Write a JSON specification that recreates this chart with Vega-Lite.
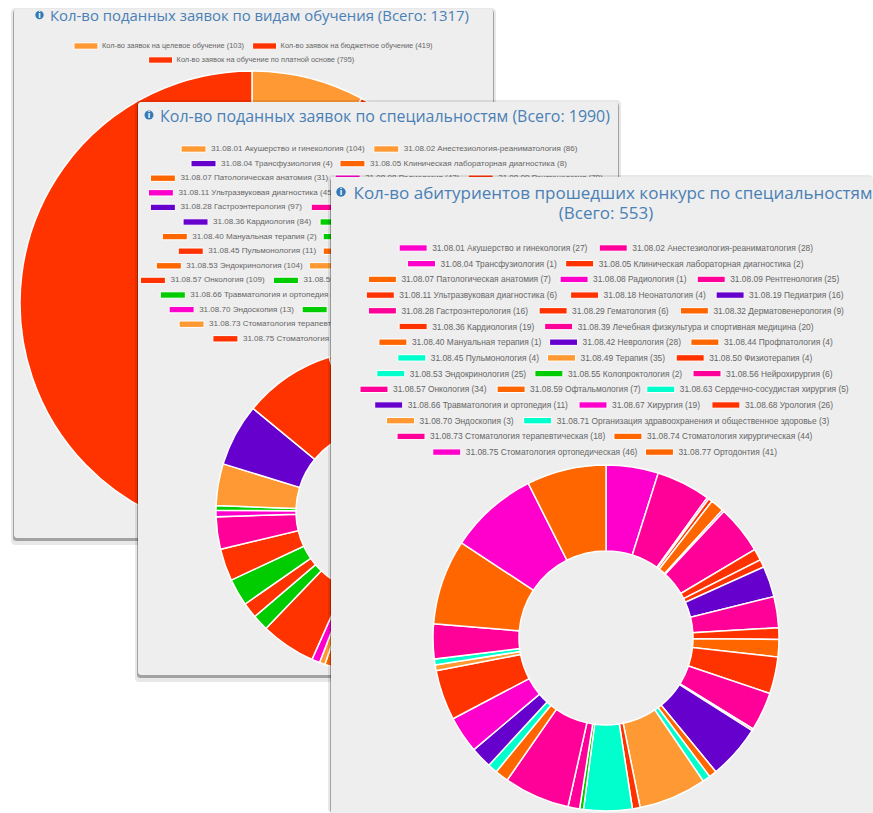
{"$schema":"https://vega.github.io/schema/vega-lite/v6.json","width":873,"height":813,"autosize":{"type":"none"},"padding":0,"background":"#ffffff","config":{"view":{"stroke":null},"axis":{"domain":false,"grid":false,"ticks":false,"labels":false,"title":null}},
"datasets":{"panels":[{"panel":"A","title":"Кол-во поданных заявок по видам обучения (Всего: 1317)"},{"panel":"B","title":"Кол-во поданных заявок по специальностям (Всего: 1990)"},{"panel":"C","title":"Кол-во абитуриентов прошедших конкурс по специальностям","sub":"(Всего: 553)"}],
"rows":[
{"panel":"A","seq":1,"name":"Кол-во заявок на целевое обучение","n":103,"line":0},
{"panel":"A","seq":2,"name":"Кол-во заявок на бюджетное обучение","n":419,"line":0},
{"panel":"A","seq":3,"name":"Кол-во заявок на обучение по платной основе","n":795,"line":1},
{"panel":"B","seq":1,"code":"31.08.01","name":"Акушерство и гинекология","n":104,"line":0},
{"panel":"B","seq":2,"code":"31.08.02","name":"Анестезиология-реаниматология","n":86,"line":0},
{"panel":"B","seq":3,"code":"31.08.04","name":"Трансфузиология","n":4,"line":1},
{"panel":"B","seq":4,"code":"31.08.05","name":"Клиническая лабораторная диагностика","n":8,"line":1},
{"panel":"B","seq":5,"code":"31.08.07","name":"Патологическая анатомия","n":31,"line":2},
{"panel":"B","seq":6,"code":"31.08.08","name":"Радиология","n":42,"line":2},
{"panel":"B","seq":7,"code":"31.08.09","name":"Рентгенология","n":79,"line":2},
{"panel":"B","seq":8,"code":"31.08.11","name":"Ультразвуковая диагностика","n":45,"line":3},
{"panel":"B","seq":9,"code":"31.08.18","name":"Неонатология","n":12,"line":3},
{"panel":"B","seq":10,"code":"31.08.19","name":"Педиатрия","n":70,"line":3},
{"panel":"B","seq":11,"code":"31.08.28","name":"Гастроэнтерология","n":97,"line":4},
{"panel":"B","seq":12,"code":"31.08.29","name":"Гематология","n":20,"line":4},
{"panel":"B","seq":13,"code":"31.08.32","name":"Дерматовенерология","n":28,"line":4},
{"panel":"B","seq":14,"code":"31.08.36","name":"Кардиология","n":84,"line":5},
{"panel":"B","seq":15,"code":"31.08.39","name":"Лечебная физкультура и спортивная медицина","n":52,"line":5},
{"panel":"B","seq":16,"code":"31.08.40","name":"Мануальная терапия","n":2,"line":6},
{"panel":"B","seq":17,"code":"31.08.42","name":"Неврология","n":80,"line":6},
{"panel":"B","seq":18,"code":"31.08.44","name":"Профпатология","n":12,"line":6},
{"panel":"B","seq":19,"code":"31.08.45","name":"Пульмонология","n":11,"line":7},
{"panel":"B","seq":20,"code":"31.08.49","name":"Терапия","n":122,"line":7},
{"panel":"B","seq":21,"code":"31.08.50","name":"Физиотерапия","n":8,"line":7},
{"panel":"B","seq":22,"code":"31.08.53","name":"Эндокринология","n":104,"line":8},
{"panel":"B","seq":23,"code":"31.08.55","name":"Колопроктология","n":11,"line":8},
{"panel":"B","seq":24,"code":"31.08.56","name":"Нейрохирургия","n":16,"line":8},
{"panel":"B","seq":25,"code":"31.08.57","name":"Онкология","n":109,"line":9},
{"panel":"B","seq":26,"code":"31.08.59","name":"Офтальмология","n":32,"line":9},
{"panel":"B","seq":27,"code":"31.08.63","name":"Сердечно-сосудистая хирургия","n":31,"line":9},
{"panel":"B","seq":28,"code":"31.08.66","name":"Травматология и ортопедия","n":54,"line":10},
{"panel":"B","seq":29,"code":"31.08.67","name":"Хирургия","n":64,"line":10},
{"panel":"B","seq":30,"code":"31.08.68","name":"Урология","n":64,"line":10},
{"panel":"B","seq":31,"code":"31.08.70","name":"Эндоскопия","n":13,"line":11},
{"panel":"B","seq":32,"code":"31.08.71","name":"Организация здравоохранения и общественное здоровье","n":9,"line":11},
{"panel":"B","seq":33,"code":"31.08.73","name":"Стоматология терапевтическая","n":83,"line":12},
{"panel":"B","seq":34,"code":"31.08.74","name":"Стоматология хирургическая","n":124,"line":12},
{"panel":"B","seq":35,"code":"31.08.75","name":"Стоматология ортопедическая","n":182,"line":13},
{"panel":"B","seq":36,"code":"31.08.77","name":"Ортодонтия","n":97,"line":13},
{"panel":"C","seq":1,"code":"31.08.01","name":"Акушерство и гинекология","n":27,"line":0},
{"panel":"C","seq":2,"code":"31.08.02","name":"Анестезиология-реаниматология","n":28,"line":0},
{"panel":"C","seq":3,"code":"31.08.04","name":"Трансфузиология","n":1,"line":1},
{"panel":"C","seq":4,"code":"31.08.05","name":"Клиническая лабораторная диагностика","n":2,"line":1},
{"panel":"C","seq":5,"code":"31.08.07","name":"Патологическая анатомия","n":7,"line":2},
{"panel":"C","seq":6,"code":"31.08.08","name":"Радиология","n":1,"line":2},
{"panel":"C","seq":7,"code":"31.08.09","name":"Рентгенология","n":25,"line":2},
{"panel":"C","seq":8,"code":"31.08.11","name":"Ультразвуковая диагностика","n":6,"line":3},
{"panel":"C","seq":9,"code":"31.08.18","name":"Неонатология","n":4,"line":3},
{"panel":"C","seq":10,"code":"31.08.19","name":"Педиатрия","n":16,"line":3},
{"panel":"C","seq":11,"code":"31.08.28","name":"Гастроэнтерология","n":16,"line":4},
{"panel":"C","seq":12,"code":"31.08.29","name":"Гематология","n":6,"line":4},
{"panel":"C","seq":13,"code":"31.08.32","name":"Дерматовенерология","n":9,"line":4},
{"panel":"C","seq":14,"code":"31.08.36","name":"Кардиология","n":19,"line":5},
{"panel":"C","seq":15,"code":"31.08.39","name":"Лечебная физкультура и спортивная медицина","n":20,"line":5},
{"panel":"C","seq":16,"code":"31.08.40","name":"Мануальная терапия","n":1,"line":6},
{"panel":"C","seq":17,"code":"31.08.42","name":"Неврология","n":28,"line":6},
{"panel":"C","seq":18,"code":"31.08.44","name":"Профпатология","n":4,"line":6},
{"panel":"C","seq":19,"code":"31.08.45","name":"Пульмонология","n":4,"line":7},
{"panel":"C","seq":20,"code":"31.08.49","name":"Терапия","n":35,"line":7},
{"panel":"C","seq":21,"code":"31.08.50","name":"Физиотерапия","n":4,"line":7},
{"panel":"C","seq":22,"code":"31.08.53","name":"Эндокринология","n":25,"line":8},
{"panel":"C","seq":23,"code":"31.08.55","name":"Колопроктология","n":2,"line":8},
{"panel":"C","seq":24,"code":"31.08.56","name":"Нейрохирургия","n":6,"line":8},
{"panel":"C","seq":25,"code":"31.08.57","name":"Онкология","n":34,"line":9},
{"panel":"C","seq":26,"code":"31.08.59","name":"Офтальмология","n":7,"line":9},
{"panel":"C","seq":27,"code":"31.08.63","name":"Сердечно-сосудистая хирургия","n":5,"line":9},
{"panel":"C","seq":28,"code":"31.08.66","name":"Травматология и ортопедия","n":11,"line":10},
{"panel":"C","seq":29,"code":"31.08.67","name":"Хирургия","n":19,"line":10},
{"panel":"C","seq":30,"code":"31.08.68","name":"Урология","n":26,"line":10},
{"panel":"C","seq":31,"code":"31.08.70","name":"Эндоскопия","n":3,"line":11},
{"panel":"C","seq":32,"code":"31.08.71","name":"Организация здравоохранения и общественное здоровье","n":3,"line":11},
{"panel":"C","seq":33,"code":"31.08.73","name":"Стоматология терапевтическая","n":18,"line":12},
{"panel":"C","seq":34,"code":"31.08.74","name":"Стоматология хирургическая","n":44,"line":12},
{"panel":"C","seq":35,"code":"31.08.75","name":"Стоматология ортопедическая","n":46,"line":13},
{"panel":"C","seq":36,"code":"31.08.77","name":"Ортодонтия","n":41,"line":13}
]},
"data":{"name":"rows"},
"transform":[
{"calculate":"(datum.code ? datum.code + ' ' : '') + datum.name + ' (' + datum.n + ')'","as":"label"},
{"calculate":"datum.panel + ' ' + datum.seq","as":"key"},
{"calculate":"datum.panel==='A' ? 24 : datum.panel==='B' ? 25 : 28","as":"sw"},
{"calculate":"datum.panel==='A' ? 28 : datum.panel==='B' ? 30 : 33","as":"tx"},
{"calculate":"datum.panel==='A' ? 252.5 : datum.panel==='B' ? 378 : 606","as":"mid"},
{"calculate":"datum.tx + 7.5 + length(datum.label) * (datum.panel==='A' ? 3.67 : datum.panel==='B' ? 3.98 : 4.2)","as":"w"},
{"joinaggregate":[{"op":"sum","field":"w","as":"total"}],"groupby":["panel","line"]},
{"window":[{"op":"sum","field":"w","as":"cum"}],"sort":[{"field":"seq","order":"ascending"}],"groupby":["panel","line"]},
{"calculate":"datum.mid - (datum.total - 7.5) / 2 + datum.cum - datum.w","as":"sx"},
{"calculate":"datum.sx + datum.sw","as":"sx2"},
{"calculate":"datum.sx + datum.tx","as":"lx"},
{"calculate":"(datum.panel==='A' ? 46 : datum.panel==='B' ? 149 : 248) + datum.line * (datum.panel==='A' ? 14 : datum.panel==='B' ? 14.6 : 15.7)","as":"ly"},
{"calculate":"datum.ly - 3.2","as":"ly1"},
{"calculate":"datum.ly + 3.2","as":"ly2"}
],
"layer":[
{"data":{"name":"panels"},"transform":[{"filter":"datum.panel==='A'"}],"mark":{"type":"rect","fill":"#000000","opacity":0.09,"cornerRadius":4},"encoding":{"x":{"datum":11,"type":"quantitative","scale":{"domain":[0,873],"nice":false,"zero":false},"axis":null},"x2":{"datum":496},"y":{"datum":8,"type":"quantitative","scale":{"domain":[0,813],"nice":false,"zero":false,"reverse":true},"axis":null},"y2":{"datum":545}}},
{"data":{"name":"panels"},"transform":[{"filter":"datum.panel==='A'"}],"mark":{"type":"rect","fill":"#000000","opacity":0.3,"cornerRadius":3},"encoding":{"x":{"datum":13,"type":"quantitative","axis":null},"x2":{"datum":494},"y":{"datum":10,"type":"quantitative","axis":null},"y2":{"datum":541}}},
{"data":{"name":"panels"},"transform":[{"filter":"datum.panel==='A'"}],"mark":{"type":"rect","fill":"#eeeeee","cornerRadius":3},"encoding":{"x":{"datum":14,"type":"quantitative","axis":null},"x2":{"datum":493},"y":{"datum":9,"type":"quantitative","axis":null},"y2":{"datum":538}}},
{"data":{"name":"panels"},"transform":[{"filter":"datum.panel==='A'"}],"mark":{"type":"text","font":"Open Sans","fontSize":14.9,"color":"#4a80b5","align":"center","baseline":"middle"},"encoding":{"text":{"field":"title"},"x":{"datum":259.5,"type":"quantitative","axis":null},"y":{"datum":16.5,"type":"quantitative","axis":null}}},
{"data":{"name":"panels"},"transform":[{"filter":"datum.panel==='A'"}],"mark":{"type":"point","filled":true,"shape":"circle","size":70,"color":"#337ab7","opacity":1},"encoding":{"x":{"datum":39.5,"type":"quantitative","axis":null},"y":{"datum":15,"type":"quantitative","axis":null}}},
{"data":{"name":"panels"},"transform":[{"filter":"datum.panel==='A'"},{"calculate":"'i'","as":"icon"}],"mark":{"type":"text","font":"Liberation Sans","fontSize":9,"fontWeight":"bold","color":"#ffffff","align":"center","baseline":"middle"},"encoding":{"text":{"field":"icon"},"x":{"datum":39.5,"type":"quantitative","axis":null},"y":{"datum":15,"type":"quantitative","axis":null}}},
{"transform":[{"filter":"datum.panel==='A'"}],"mark":{"type":"arc","outerRadius":232,"innerRadius":0,"stroke":"#ffffff","strokeWidth":1.5},"encoding":{"theta":{"field":"n","type":"quantitative","stack":"normalize","scale":{"domain":[0,1]}},"order":{"field":"seq","type":"quantitative"},"color":{"field":"key","type":"nominal","legend":null,"scale":{"domain":["A 1","A 2","A 3","B 1","B 2","B 3","B 4","B 5","B 6","B 7","B 8","B 9","B 10","B 11","B 12","B 13","B 14","B 15","B 16","B 17","B 18","B 19","B 20","B 21","B 22","B 23","B 24","B 25","B 26","B 27","B 28","B 29","B 30","B 31","B 32","B 33","B 34","B 35","B 36","C 1","C 2","C 3","C 4","C 5","C 6","C 7","C 8","C 9","C 10","C 11","C 12","C 13","C 14","C 15","C 16","C 17","C 18","C 19","C 20","C 21","C 22","C 23","C 24","C 25","C 26","C 27","C 28","C 29","C 30","C 31","C 32","C 33","C 34","C 35","C 36"],"range":["#FF9933","#FF3300","#FF3300",
"#FF9933","#FF9933","#6600CC","#FF6600","#FF6600","#FF00CC","#FF3300","#FF00CC","#FF3300","#6600CC","#6600CC","#FF0099","#FF6600","#6600CC","#00CC00","#FF6600","#00CC00","#FF6600","#FF3300","#FF6600","#FF3300","#FF6600","#FF9933","#FF00CC","#FF3300","#00CC00","#FF3300","#00CC00","#FF3300","#FF0099","#FF00CC","#00CC00","#FF9933","#6600CC","#FF3300","#FF6600",
"#FF00CC","#FF0099","#FF00CC","#FF3300","#FF6600","#FF00CC","#FF0099","#FF3300","#FF3300","#6600CC","#FF0099","#FF3300","#FF6600","#FF3300","#FF0099","#FF6600","#6600CC","#FF6600","#00FFCC","#FF9933","#FF3300","#00FFCC","#00CC00","#FF0099","#FF0099","#FF6600","#00FFCC","#6600CC","#FF00CC","#FF3300","#FF9933","#00FFCC","#FF0099","#FF6600","#FF00CC","#FF6600"]}},"x":{"datum":252,"type":"quantitative","axis":null},"y":{"datum":303,"type":"quantitative","axis":null}}},
{"transform":[{"filter":"datum.panel==='A'"}],"mark":{"type":"rect","stroke":"#ffffff","strokeWidth":1},"encoding":{"x":{"field":"sx","type":"quantitative","axis":null},"x2":{"field":"sx2"},"y":{"field":"ly1","type":"quantitative","axis":null},"y2":{"field":"ly2"},"color":{"field":"key","type":"nominal","legend":null}}},
{"transform":[{"filter":"datum.panel==='A'"}],"mark":{"type":"text","font":"Liberation Sans","fontSize":7.4,"color":"#666666","align":"left","baseline":"middle"},"encoding":{"x":{"field":"lx","type":"quantitative","axis":null},"y":{"field":"ly","type":"quantitative","axis":null},"text":{"field":"label"}}},

{"data":{"name":"panels"},"transform":[{"filter":"datum.panel==='B'"}],"mark":{"type":"rect","fill":"#000000","opacity":0.09,"cornerRadius":4},"encoding":{"x":{"datum":135,"type":"quantitative","axis":null},"x2":{"datum":621},"y":{"datum":100,"type":"quantitative","axis":null},"y2":{"datum":682}}},
{"data":{"name":"panels"},"transform":[{"filter":"datum.panel==='B'"}],"mark":{"type":"rect","fill":"#000000","opacity":0.3,"cornerRadius":3},"encoding":{"x":{"datum":137,"type":"quantitative","axis":null},"x2":{"datum":619},"y":{"datum":103,"type":"quantitative","axis":null},"y2":{"datum":678}}},
{"data":{"name":"panels"},"transform":[{"filter":"datum.panel==='B'"}],"mark":{"type":"rect","fill":"#eeeeee","cornerRadius":3},"encoding":{"x":{"datum":138,"type":"quantitative","axis":null},"x2":{"datum":618},"y":{"datum":102,"type":"quantitative","axis":null},"y2":{"datum":675}}},
{"data":{"name":"panels"},"transform":[{"filter":"datum.panel==='B'"}],"mark":{"type":"text","font":"Open Sans","fontSize":15.95,"color":"#4a80b5","align":"center","baseline":"middle"},"encoding":{"text":{"field":"title"},"x":{"datum":385,"type":"quantitative","axis":null},"y":{"datum":116.5,"type":"quantitative","axis":null}}},
{"data":{"name":"panels"},"transform":[{"filter":"datum.panel==='B'"}],"mark":{"type":"point","filled":true,"shape":"circle","size":80,"color":"#337ab7","opacity":1},"encoding":{"x":{"datum":149,"type":"quantitative","axis":null},"y":{"datum":115,"type":"quantitative","axis":null}}},
{"data":{"name":"panels"},"transform":[{"filter":"datum.panel==='B'"},{"calculate":"'i'","as":"icon"}],"mark":{"type":"text","font":"Liberation Sans","fontSize":9,"fontWeight":"bold","color":"#ffffff","align":"center","baseline":"middle"},"encoding":{"text":{"field":"icon"},"x":{"datum":149,"type":"quantitative","axis":null},"y":{"datum":115,"type":"quantitative","axis":null}}},
{"transform":[{"filter":"datum.panel==='B'"}],"mark":{"type":"arc","outerRadius":162,"innerRadius":82,"stroke":"#ffffff","strokeWidth":1.5},"encoding":{"theta":{"field":"n","type":"quantitative","stack":"normalize"},"order":{"field":"seq","type":"quantitative"},"color":{"field":"key","type":"nominal","legend":null},"x":{"datum":378,"type":"quantitative","axis":null},"y":{"datum":511.5,"type":"quantitative","axis":null}}},
{"transform":[{"filter":"datum.panel==='B'"}],"mark":{"type":"rect","stroke":"#ffffff","strokeWidth":1},"encoding":{"x":{"field":"sx","type":"quantitative","axis":null},"x2":{"field":"sx2"},"y":{"field":"ly1","type":"quantitative","axis":null},"y2":{"field":"ly2"},"color":{"field":"key","type":"nominal","legend":null}}},
{"transform":[{"filter":"datum.panel==='B'"}],"mark":{"type":"text","font":"Liberation Sans","fontSize":8.05,"color":"#666666","align":"left","baseline":"middle"},"encoding":{"x":{"field":"lx","type":"quantitative","axis":null},"y":{"field":"ly","type":"quantitative","axis":null},"text":{"field":"label"}}},

{"data":{"name":"panels"},"transform":[{"filter":"datum.panel==='C'"}],"mark":{"type":"rect","fill":"#000000","opacity":0.09,"cornerRadius":4},"encoding":{"x":{"datum":328,"type":"quantitative","axis":null},"x2":{"datum":873},"y":{"datum":175,"type":"quantitative","axis":null},"y2":{"datum":813}}},
{"data":{"name":"panels"},"transform":[{"filter":"datum.panel==='C'"}],"mark":{"type":"rect","fill":"#000000","opacity":0.3,"cornerRadius":3},"encoding":{"x":{"datum":330,"type":"quantitative","axis":null},"x2":{"datum":873},"y":{"datum":178,"type":"quantitative","axis":null},"y2":{"datum":813}}},
{"data":{"name":"panels"},"transform":[{"filter":"datum.panel==='C'"}],"mark":{"type":"rect","fill":"#eeeeee"},"encoding":{"x":{"datum":331,"type":"quantitative","axis":null},"x2":{"datum":873},"y":{"datum":177,"type":"quantitative","axis":null},"y2":{"datum":813}}},
{"data":{"name":"panels"},"transform":[{"filter":"datum.panel==='C'"}],"mark":{"type":"text","font":"Open Sans","fontSize":17,"color":"#4a80b5","align":"center","baseline":"middle"},"encoding":{"text":{"field":"title"},"x":{"datum":613,"type":"quantitative","axis":null},"y":{"datum":194,"type":"quantitative","axis":null}}},
{"data":{"name":"panels"},"transform":[{"filter":"datum.panel==='C'"}],"mark":{"type":"text","font":"Open Sans","fontSize":17,"color":"#4a80b5","align":"center","baseline":"middle"},"encoding":{"text":{"field":"sub"},"x":{"datum":606,"type":"quantitative","axis":null},"y":{"datum":214,"type":"quantitative","axis":null}}},
{"data":{"name":"panels"},"transform":[{"filter":"datum.panel==='C'"}],"mark":{"type":"point","filled":true,"shape":"circle","size":90,"color":"#337ab7","opacity":1},"encoding":{"x":{"datum":341,"type":"quantitative","axis":null},"y":{"datum":192,"type":"quantitative","axis":null}}},
{"data":{"name":"panels"},"transform":[{"filter":"datum.panel==='C'"},{"calculate":"'i'","as":"icon"}],"mark":{"type":"text","font":"Liberation Sans","fontSize":9,"fontWeight":"bold","color":"#ffffff","align":"center","baseline":"middle"},"encoding":{"text":{"field":"icon"},"x":{"datum":341,"type":"quantitative","axis":null},"y":{"datum":192,"type":"quantitative","axis":null}}},
{"transform":[{"filter":"datum.panel==='C'"}],"mark":{"type":"arc","outerRadius":173,"innerRadius":87,"stroke":"#ffffff","strokeWidth":1.5},"encoding":{"theta":{"field":"n","type":"quantitative","stack":"normalize"},"order":{"field":"seq","type":"quantitative"},"color":{"field":"key","type":"nominal","legend":null},"x":{"datum":606,"type":"quantitative","axis":null},"y":{"datum":638,"type":"quantitative","axis":null}}},
{"transform":[{"filter":"datum.panel==='C'"}],"mark":{"type":"rect","stroke":"#ffffff","strokeWidth":1},"encoding":{"x":{"field":"sx","type":"quantitative","axis":null},"x2":{"field":"sx2"},"y":{"field":"ly1","type":"quantitative","axis":null},"y2":{"field":"ly2"},"color":{"field":"key","type":"nominal","legend":null}}},
{"transform":[{"filter":"datum.panel==='C'"}],"mark":{"type":"text","font":"Liberation Sans","fontSize":8.4,"color":"#666666","align":"left","baseline":"middle"},"encoding":{"x":{"field":"lx","type":"quantitative","axis":null},"y":{"field":"ly","type":"quantitative","axis":null},"text":{"field":"label"}}}
]}
